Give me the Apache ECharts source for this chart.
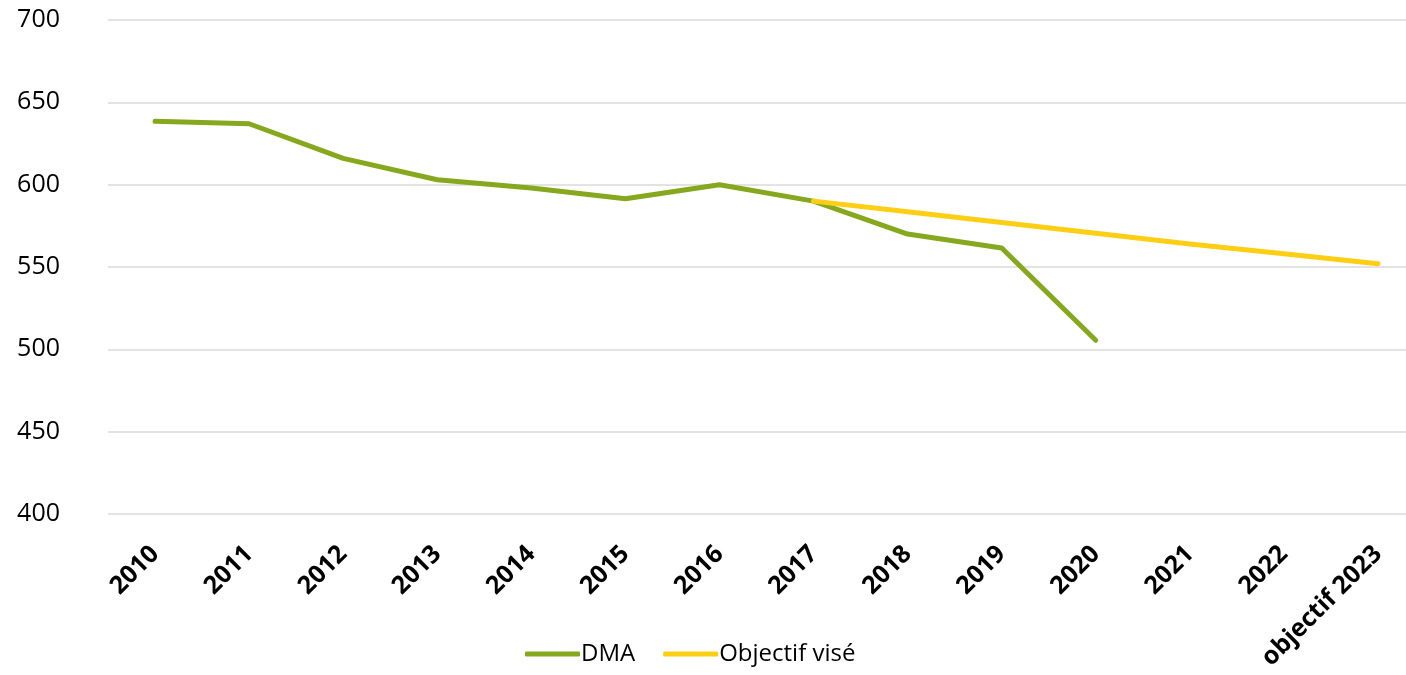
<!DOCTYPE html>
<html><head><meta charset="utf-8">
<script src="https://cdn.jsdelivr.net/npm/echarts@6/dist/echarts.min.js"></script>
<style>html,body{margin:0;padding:0;background:#fff}#c{width:1406px;height:675px}</style>
</head><body><div id="c"></div>
<script>
const categories = ['2010','2011','2012','2013','2014','2015','2016','2017','2018','2019','2020','2021','2022','objectif 2023'];
const dmaValues = [638.5, 637, 616, 603, 598, 591.5, 600, 590, 570, 561.5, 505.5, null, null, null];
const objectifValues = [null, null, null, null, null, null, null, 590, 583.5, 577, 570.5, 564, 558, 552];
const yTicks = {min: 400, max: 700, interval: 50};

const chart = echarts.init(document.getElementById('c'));
chart.setOption({
  animation: false,
  grid: {left: 108, width: 1317, top: 20, bottom: 161, containLabel: false, outerBoundsMode: 'none'},
  legend: {
    bottom: 4, left: 520,
    itemWidth: 55, itemHeight: 5, itemGap: 28,
    textStyle: {fontFamily: 'Open Sans', fontSize: 24, color: '#000', padding: [0,0,0,-4]},
    data: [
      {name: 'DMA', icon: 'roundRect'},
      {name: 'Objectif visé', icon: 'roundRect'}
    ]
  },
  xAxis: {
    type: 'category', data: categories, boundaryGap: true,
    axisLine: {show: false}, axisTick: {show: false},
    axisLabel: {rotate: 45, fontFamily: 'Open Sans', fontWeight: 'bold', fontSize: 25, color: '#000', margin: 36, interval: 0}
  },
  yAxis: {
    type: 'value', min: yTicks.min, max: yTicks.max, interval: yTicks.interval,
    axisLine: {show: false}, axisTick: {show: false},
    splitLine: {lineStyle: {color: '#e3e3e3', width: 2}},
    axisLabel: {fontFamily: 'Open Sans', fontSize: 25, color: '#000', margin: 48}
  },
  series: [
    {name: 'DMA', type: 'line', data: dmaValues, symbol: 'none', color: '#86A81E',
     lineStyle: {width: 5, color: '#86A81E', cap: 'round', join: 'round'}},
    {name: 'Objectif visé', type: 'line', data: objectifValues, symbol: 'none', color: '#FDCF14',
     lineStyle: {width: 5, color: '#FDCF14', cap: 'round', join: 'round'}}
  ]
});
</script></body></html>
